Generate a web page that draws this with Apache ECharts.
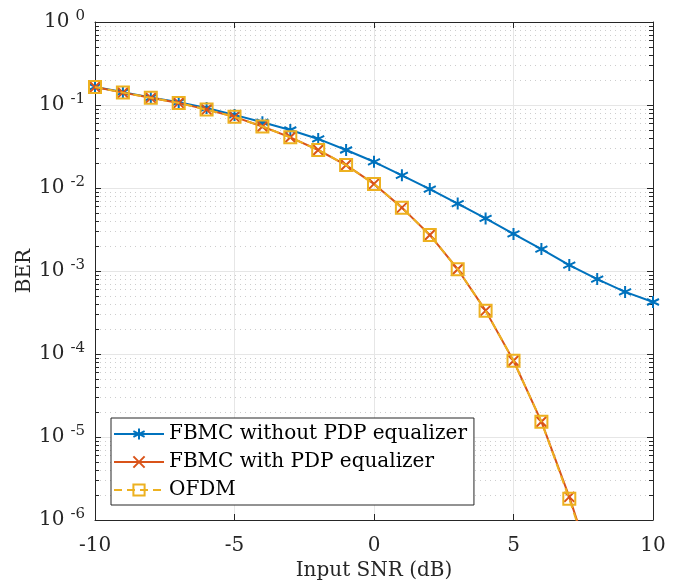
<!DOCTYPE html>
<html>
<head>
<meta charset="utf-8">
<script src="https://cdn.jsdelivr.net/npm/echarts@6/dist/echarts.min.js"></script>
<style>
html,body{margin:0;padding:0;background:#fff;}
#c{width:675px;height:581px;}
</style>
</head>
<body>
<div id="c"></div>
<script>
// ---- data ----
const snr = [-10,-9,-8,-7,-6,-5,-4,-3,-2,-1,0,1,2,3,4,5,6,7,8,9,10];
const berNoEq = [0.165,0.143,0.123,0.108,0.092,0.076,0.062,0.050,0.039,0.0287,0.0207,0.0142,0.0097,0.0065,0.0043,0.0028,0.00184,0.00118,0.00080,0.00056,0.000423];
const snrEq = [-10,-9,-8,-7,-6,-5,-4,-3,-2,-1,0,1,2,3,4,5,6,7,8];
const berEq = [0.165,0.141,0.122,0.106,0.088,0.072,0.055,0.0408,0.0287,0.0189,0.0112,0.0058,0.00272,0.00105,0.000333,0.000083,0.0000153,0.0000019,0.00000018];
const berOfdm = [0.165,0.141,0.122,0.106,0.088,0.072,0.055,0.0408,0.0287,0.0189,0.0112,0.0058,0.00272,0.00105,0.000333,0.000083,0.0000153,0.0000018,0.00000017];
const xTicks = [-10,-5,0,5,10];
const yExponents = [-6,-5,-4,-3,-2,-1,0];
const seriesNames = ['FBMC without PDP equalizer','FBMC with PDP equalizer','OFDM'];
const colors = ['#0072BD','#D95319','#EDB120'];

const xMin = xTicks[0], xMax = xTicks[xTicks.length-1];
const yMin = Math.pow(10, yExponents[0]), yMax = Math.pow(10, yExponents[yExponents.length-1]);

// minor log values
const minorVals = [];
for (let e = yExponents[0]; e < yExponents[yExponents.length-1]; e++) {
  for (let k = 2; k <= 9; k++) minorVals.push([xMin, k*Math.pow(10,e)]);
}

const FONT = 'DejaVu Serif';
const axisColor = '#262626';

const asterisk = 'path://M0,-1L0,1M-0.866,-0.5L0.866,0.5M-0.866,0.5L0.866,-0.5';
const cross = 'path://M-1,-1L1,1M-1,1L1,-1';

const chart = echarts.init(document.getElementById('c'), null, {renderer:'canvas'});

const yLabel = {
  formatter: function(v){ const e = Math.round(Math.log10(v)); return '{b|10}{s|' + e + '}'; },
  rich: {
    b: {fontFamily: FONT, fontSize: 20, color: axisColor, padding:[0,6,0,0]},
    s: {fontFamily: FONT, fontSize: 15, color: axisColor, verticalAlign:'bottom', padding:[0,0,11,0]}
  },
  margin: 10
};

chart.setOption({
  animation: false,
  backgroundColor: '#fff',
  grid: {left: 95, top: 22, right: 22, bottom: 61, containLabel: false, outerBoundsMode: 'none'},
  legend: {
    data: seriesNames,
    orient: 'vertical',
    left: 111, top: 418,
    itemWidth: 50, itemHeight: 14, itemGap: 6,
    padding: [5, 7, 4, 2],
    borderColor: axisColor, borderWidth: 1, backgroundColor: '#fff',
    selectedMode: false,
    textStyle: {fontFamily: FONT, fontSize: 20, lineHeight: 22, color: '#000'}
  },
  xAxis: [{
    type: 'value', min: xMin, max: xMax, interval: 5,
    name: 'Input SNR (dB)', nameLocation: 'middle', nameGap: 40,
    nameTextStyle: {fontFamily: FONT, fontSize: 20, color: axisColor},
    axisLine: {show: true, onZero: false, lineStyle: {color: axisColor, width: 1}},
    axisTick: {show: true, inside: true, length: 6, lineStyle: {color: axisColor}},
    axisLabel: {fontFamily: FONT, fontSize: 20, color: axisColor, margin: 16},
    splitLine: {show: true, lineStyle: {color: '#e6e6e6', width: 1}}
  },{
    type: 'value', min: xMin, max: xMax, interval: 5, position: 'top',
    axisLine: {show: true, onZero: false, lineStyle: {color: axisColor, width: 1}},
    axisTick: {show: true, inside: true, length: 6, lineStyle: {color: axisColor}},
    axisLabel: {show: false}, splitLine: {show: false}
  }],
  yAxis: [{
    type: 'log', logBase: 10, min: yMin, max: yMax, interval: 1,
    name: 'BER', nameLocation: 'middle', nameGap: 60, nameRotate: 90, nameMoveOverlap: false,
    nameTextStyle: {fontFamily: FONT, fontSize: 20, color: axisColor},
    axisLine: {show: true, onZero: false, lineStyle: {color: axisColor, width: 1}},
    axisTick: {show: true, inside: true, length: 6, lineStyle: {color: axisColor}},
    axisLabel: yLabel,
    splitLine: {show: true, lineStyle: {color: '#e6e6e6', width: 1}}
  },{
    type: 'log', logBase: 10, min: yMin, max: yMax, interval: 1, position: 'right',
    axisLine: {show: true, onZero: false, lineStyle: {color: axisColor, width: 1}},
    axisTick: {show: true, inside: true, length: 6, lineStyle: {color: axisColor}},
    axisLabel: {show: false}, splitLine: {show: false}
  }],
  series: [
    {
      type: 'custom', name: 'minor', silent: true, z: 1,
      xAxisIndex: 0, yAxisIndex: 0,
      data: minorVals,
      renderItem: function(params, api){
        const v = api.value(1);
        const p0 = api.coord([xMin, v]);
        const p1 = api.coord([xMax, v]);
        const y = Math.round(p0[1]) + 0.5;
        return {type:'group', children:[
          {type:'line', shape:{x1:p0[0], y1:y, x2:p1[0], y2:y}, style:{stroke:'#cdcdcd', lineWidth:1, lineDash:[1,4]}},
          {type:'line', shape:{x1:p0[0], y1:y, x2:p0[0]+4, y2:y}, style:{stroke:axisColor, lineWidth:1}},
          {type:'line', shape:{x1:p1[0]-4, y1:y, x2:p1[0], y2:y}, style:{stroke:axisColor, lineWidth:1}}
        ]};
      }
    },
    {
      type: 'line', name: seriesNames[0], z: 3,
      data: snr.map((x,i)=>[x, berNoEq[i]]),
      symbol: asterisk, symbolSize: 12, showAllSymbol: true,
      lineStyle: {color: colors[0], width: 2},
      itemStyle: {color: 'none', borderColor: colors[0], borderWidth: 2},
      clip: true
    },
    {
      type: 'line', name: seriesNames[1], z: 4,
      data: snrEq.map((x,i)=>[x, berEq[i]]),
      symbol: cross, symbolSize: 10, showAllSymbol: true,
      lineStyle: {color: colors[1], width: 2},
      itemStyle: {color: 'none', borderColor: colors[1], borderWidth: 2},
      clip: true
    },
    {
      type: 'line', name: seriesNames[2], z: 5,
      data: snrEq.map((x,i)=>[x, berOfdm[i]]),
      symbol: 'rect', symbolSize: 12, showAllSymbol: true,
      lineStyle: {color: colors[2], width: 2, type: [8,5]},
      itemStyle: {color: 'none', borderColor: colors[2], borderWidth: 2},
      clip: true
    }
  ]
});
</script>
</body>
</html>
